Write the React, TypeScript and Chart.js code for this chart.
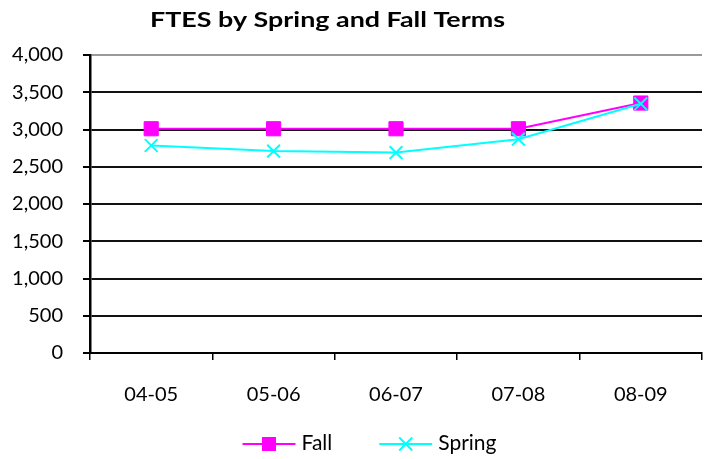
import React, { useEffect, useRef } from 'react';
import { Chart, registerables } from 'chart.js';

Chart.register(...registerables);

const categories = ['04-05', '05-06', '06-07', '07-08', '08-09'];
const fallValues = [3010, 3010, 3010, 3010, 3355];
const springValues = [2785, 2710, 2690, 2870, 3345];
const seriesNames = ['Fall', 'Spring'];
const yMin = 0;
const yMax = 4000;
const yStep = 500;
const titleText = 'FTES by Spring and Fall Terms';

const FONT = 'Lato, "Open Sans", sans-serif';
const FALL_COLOR = '#FF00FF';
const SPRING_COLOR = '#00FFFF';

const overlayPlugin = {
  id: 'overlay',
  afterDraw(chart: any) {
    const ctx: CanvasRenderingContext2D = chart.ctx;
    // Title
    ctx.save();
    ctx.font = `bold 21px ${FONT}`;
    const tw = ctx.measureText(titleText).width;
    const sx = 355 / tw;
    ctx.translate(327.5, 27);
    ctx.scale(sx, 1);
    ctx.textAlign = 'center';
    ctx.textBaseline = 'alphabetic';
    ctx.fillStyle = '#000';
    ctx.fillText(titleText, 0, 0);
    ctx.restore();

    // Legend
    ctx.save();
    ctx.font = `21px ${FONT}`;
    const lineLen = 53;
    const gap = 6;
    const itemGap = 47;
    const items = chart.data.datasets.map((ds: any) => ({
      label: ds.label,
      color: ds.borderColor,
      style: ds.pointStyle,
      w: ctx.measureText(ds.label).width,
    }));
    let total = 0;
    items.forEach((it: any, i: number) => {
      total += lineLen + gap + it.w + (i > 0 ? itemGap : 0);
    });
    let x = 369.5 - total / 2;
    const y = 444;
    items.forEach((it: any) => {
      ctx.strokeStyle = it.color;
      ctx.lineWidth = 2;
      ctx.beginPath();
      ctx.moveTo(x, y);
      ctx.lineTo(x + lineLen, y);
      ctx.stroke();
      const cx = x + lineLen / 2;
      if (it.style === 'rect') {
        ctx.fillStyle = it.color;
        ctx.fillRect(cx - 7, y - 7, 14, 14);
      } else {
        ctx.beginPath();
        ctx.moveTo(cx - 6.5, y - 6.5);
        ctx.lineTo(cx + 6.5, y + 6.5);
        ctx.moveTo(cx + 6.5, y - 6.5);
        ctx.lineTo(cx - 6.5, y + 6.5);
        ctx.stroke();
      }
      ctx.fillStyle = '#000';
      ctx.textAlign = 'left';
      ctx.textBaseline = 'alphabetic';
      ctx.fillText(it.label, x + lineLen + gap, 450);
      x += lineLen + gap + it.w + itemGap;
    });
    ctx.restore();
  },
};

export default function App() {
  const canvasRef = useRef<HTMLCanvasElement | null>(null);

  useEffect(() => {
    if (!canvasRef.current) return;
    const chart = new Chart(canvasRef.current, {
      type: 'line',
      data: {
        labels: categories,
        datasets: [
          {
            label: seriesNames[0],
            data: fallValues,
            borderColor: FALL_COLOR,
            backgroundColor: FALL_COLOR,
            borderWidth: 2,
            pointStyle: 'rect',
            pointRadius: 10,
            pointBorderWidth: 1,
            pointBackgroundColor: FALL_COLOR,
            pointBorderColor: FALL_COLOR,
            tension: 0,
            order: 1,
          },
          {
            label: seriesNames[1],
            data: springValues,
            borderColor: SPRING_COLOR,
            backgroundColor: SPRING_COLOR,
            borderWidth: 2,
            pointStyle: 'crossRot',
            pointRadius: 9,
            pointBorderWidth: 2,
            pointBorderColor: SPRING_COLOR,
            tension: 0,
            order: 0,
          },
        ],
      },
      options: {
        animation: false,
        responsive: false,
        maintainAspectRatio: false,
        layout: { autoPadding: false, padding: { top: 55, right: 2, bottom: 56, left: 0 } },
        plugins: {
          legend: { display: false },
          title: { display: false },
          tooltip: { enabled: false },
        },
        scales: {
          x: {
            type: 'category',
            offset: true,
            afterFit: (scale: any) => {
              scale.height = 50;
            },
            grid: {
              display: true,
              offset: true,
              drawOnChartArea: false,
              drawTicks: true,
              tickLength: 7,
              color: '#000',
              lineWidth: 1.5,
            },
            border: { display: true, color: '#000', width: 2 },
            ticks: {
              color: '#000',
              font: { family: FONT, size: 20 },
              padding: 23,
              maxRotation: 0,
              autoSkip: false,
            },
          },
          y: {
            min: yMin,
            max: yMax,
            afterFit: (scale: any) => {
              scale.width = 90;
            },
            grid: {
              color: (c: any) => (c.tick && c.tick.value === yMax ? '#9a9a9a' : '#111'),
              tickColor: '#000',
              lineWidth: 2,
              drawTicks: true,
              tickLength: 7,
            },
            border: { display: true, color: '#000', width: 2.5 },
            ticks: {
              stepSize: yStep,
              color: '#000',
              font: { family: FONT, size: 20 },
              padding: 20,
              callback: (v: any) => Number(v).toLocaleString('en-US'),
            },
          },
        },
      },
      plugins: [overlayPlugin],
    });
    return () => chart.destroy();
  }, []);

  return (
    <div style={{ position: 'absolute', left: 0, top: 0, width: 704, height: 459, background: '#fff' }}>
      <canvas ref={canvasRef} width={704} height={459} style={{ display: 'block' }} />
    </div>
  );
}
